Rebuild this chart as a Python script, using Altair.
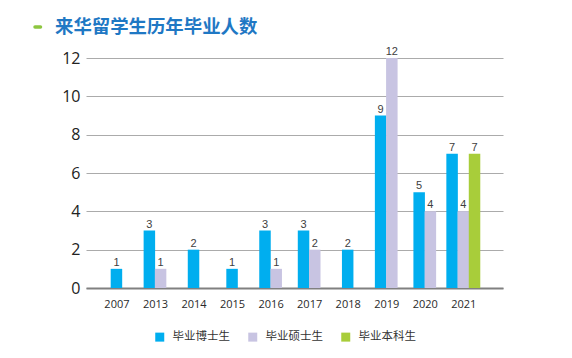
import altair as alt
import pandas as pd

years = ["2007", "2013", "2014", "2015", "2016", "2017", "2018", "2019", "2020", "2021"]
series = ["毕业博士生", "毕业硕士生", "毕业本科生"]
phd = [1, 3, 2, 1, 3, 3, 2, 9, 5, 7]
master = [None, 1, None, None, 1, 2, None, 12, 4, 4]
bachelor = [None, None, None, None, None, None, None, None, None, 7]
colors = ["#00AEEF", "#C8C4E2", "#A8CD3A"]
title_text = "来华留学生历年毕业人数"
y_ticks = [0, 2, 4, 6, 8, 10, 12]

# long table; bars in each year are centred on the year's position
BAR = 0.291  # bar width in category units
rows = []
for i, y in enumerate(years):
    vals = [(s, v) for s, v in zip(series, [phd[i], master[i], bachelor[i]]) if v is not None]
    n = len(vals)
    for r, (s, v) in enumerate(vals):
        rows.append({"year": y, "series": s, "value": v,
                     "pos": i + (r - (n - 1) / 2) * BAR})
df = pd.DataFrame(rows)

label_expr = "[" + ",".join(f"'{y}'" for y in years) + "][datum.value]"

xenc = alt.X("pos:Q",
             scale=alt.Scale(domain=[-0.66, 9.9], nice=False, zero=False),
             axis=alt.Axis(values=list(range(len(years))), labelExpr=label_expr,
                           title=None, grid=False, ticks=False, domain=True,
                           domainColor="#808080", domainWidth=2.2,
                           labelFontSize=11, labelColor="#2A2A2A", labelPadding=10,
                           labelFont="Open Sans", labelOverlap=False))
yenc = alt.Y("value:Q",
             scale=alt.Scale(domain=[0, 12], nice=False),
             axis=alt.Axis(values=y_ticks, title=None, ticks=False,
                           domain=False, grid=True, gridColor="#ABABAB", gridWidth=1.2,
                           labelFontSize=16, labelColor="#222222", labelPadding=6,
                           labelFont="Open Sans", labelOverlap=False))

base = alt.Chart(df)

bars = base.mark_bar(width=11.5).encode(
    x=xenc, y=yenc,
    color=alt.Color("series:N",
                    scale=alt.Scale(domain=series, range=colors),
                    sort=series,
                    legend=alt.Legend(title=None, orient="none", direction="horizontal",
                                      legendX=68, legendY=273, symbolType="square",
                                      symbolSize=81, symbolStrokeWidth=0,
                                      labelFontSize=11.5, labelColor="#333333",
                                      labelFont="Noto Sans CJK SC", labelOffset=7,
                                      columnPadding=17, padding=0)),
)

labels = base.mark_text(baseline="bottom", dy=-1, fontSize=11, color="#404040",
                        font="Liberation Sans").encode(
    x=xenc, y=yenc, text="value:Q")

dash = alt.Chart(pd.DataFrame({"k": [0]})).mark_rule(color="#8DC63F", strokeWidth=3.5,
                                                      strokeCap="round").encode(
    x=alt.value(-51), x2=alt.value(-45.5), y=alt.value(-31))

title = alt.Chart(pd.DataFrame({"t": [title_text]})).mark_text(
    align="left", baseline="alphabetic", font="Noto Sans CJK SC", fontSize=18.4,
    fontWeight="bold", color="#1F78C4").encode(
    text="t:N", x=alt.value(-31), y=alt.value(-25))

chart = alt.layer(bars, labels, dash, title).properties(
    width=417, height=230,
    autosize=alt.AutoSizeParams(type="none"),
    padding={"left": 78, "top": 50, "right": 60, "bottom": 60},
).configure_view(stroke=None)

chart.save("out.html", embed_options={"renderer": "svg", "actions": False})
